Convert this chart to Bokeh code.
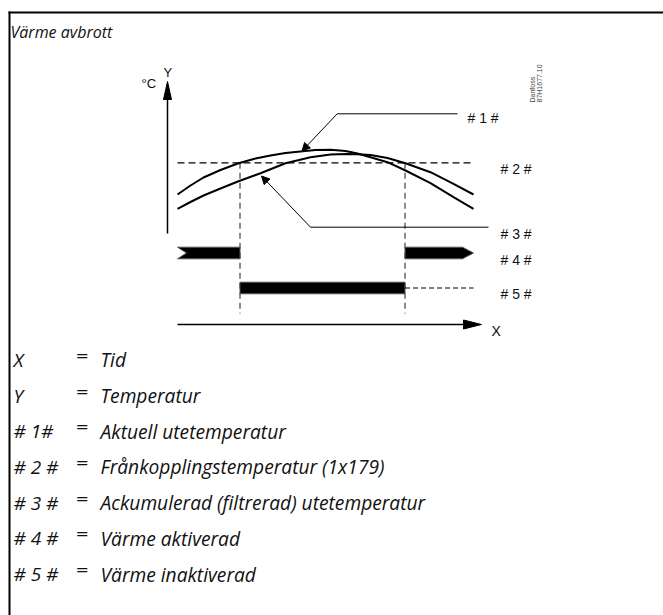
import math
from bokeh.plotting import figure
from bokeh.models import Range1d, Arrow, NormalHead
from bokeh.core.properties import value
from bokeh.embed import file_html
from bokeh.resources import INLINE

# ---------------- data (diagram coordinates) ----------------
title = "Värme avbrott"

# outdoor temperature curves (time, temperature in diagram units; y grows downward)
actual_time = [177, 190, 203, 220, 238, 255, 270, 285, 300, 315, 330, 345, 357, 370, 387, 405, 430, 453, 473]
actual_temp = [194, 185, 177, 169.5, 162.7, 158, 155, 152.5, 151, 149.5, 149.3, 150.5, 153, 156.7, 161.7, 170, 182.7, 196.7, 208.3]
accum_time = [177, 190, 203, 220, 238, 260, 285, 310, 330, 345, 357, 370, 387, 405, 430, 453, 473]
accum_temp = [208.3, 201.5, 195, 188, 180.7, 172.7, 162.7, 156.7, 154, 153.5, 153.8, 154.5, 157.5, 162.7, 171.7, 183.3, 194]

cutout_temp = 162.3            # # 2 #
time_span = (177, 473)
switch_times = [239.5, 404.5]

heat_on_level = 252.5          # # 4 #
heat_off_level = 287.5         # # 5 #

callout_keys = ["# 1 #", "# 2 #", "# 3 #", "# 4 #", "# 5 #"]

legend_keys = ["X", "Y", "# 1#", "# 2 #", "# 3 #", "# 4 #", "# 5 #"]
legend_texts = ["Tid", "Temperatur", "Aktuell utetemperatur",
                "Frånkopplingstemperatur (1x179)",
                "Ackumulerad (filtrerad) utetemperatur",
                "Värme aktiverad", "Värme inaktiverad"]

# ---------------- figure ----------------
W, H = 663, 615
p = figure(width=W, height=H, x_range=Range1d(0, W), y_range=Range1d(H, 0),
           output_backend="svg", toolbar_location=None, min_border=0,
           x_axis_type=None, y_axis_type=None)
p.grid.visible = False
p.outline_line_color = None
p.border_fill_color = "white"
p.background_fill_color = "white"

# frame
p.line([8, 663], [12, 12], line_color="black", line_width=2)
p.line([9, 9], [11, 615], line_color="black", line_width=2)

# title
p.text([10], [31], text=[title], text_font=value("Open Sans"), text_font_style="italic",
       text_font_size="16px", text_baseline="alphabetic", text_color="#111")

# axes of diagram
ax_x0, ax_y0 = 167, 233
p.line([ax_x0, ax_x0], [ax_y0, 98], line_color="black", line_width=1.5)
p.patch([ax_x0, ax_x0 - 4, ax_x0 + 4], [81, 99, 99], fill_color="black", line_color="black")
xa_y = 324
p.line([time_span[0], 464], [xa_y, xa_y], line_color="black", line_width=1.5)
p.patch([481, 463, 463], [xa_y, xa_y - 4.5, xa_y + 4.5], fill_color="black", line_color="black")

p.text([141], [83.3], text=["°C"], text_font=value("Liberation Sans"), text_font_size="13px",
       text_baseline="alphabetic", text_color="#111")
p.text([163], [71.7], text=["Y"], text_font=value("Liberation Sans"), text_font_size="13px",
       text_baseline="alphabetic", text_color="#111")
p.text([491], [330], text=["X"], text_font=value("Liberation Sans"), text_font_size="14px",
       text_baseline="alphabetic", text_color="#111")

# cut-out temperature
p.line(list(time_span), [cutout_temp, cutout_temp], line_color="black", line_width=1.2,
       line_dash="7 4")
# switching verticals
for t in switch_times:
    p.line([t, t], [cutout_temp, 313], line_color="#666666", line_width=1.5, line_dash="6 4")

# curves
p.line(actual_time, actual_temp, line_color="black", line_width=2)
p.line(accum_time, accum_temp, line_color="black", line_width=2)

# leader lines
p.line([336.7, 457], [113.3, 113.3], line_color="black", line_width=1)
p.add_layout(Arrow(end=NormalHead(size=8, fill_color="black", line_color="black", line_width=1),
                   x_start=336.7, y_start=113.3, x_end=301.5, y_end=150.5,
                   line_color="black", line_width=1))
p.line([310, 488], [226.7, 226.7], line_color="black", line_width=1)
p.add_layout(Arrow(end=NormalHead(size=8, fill_color="black", line_color="black", line_width=1),
                   x_start=310, y_start=226.7, x_end=261, y_end=175.5,
                   line_color="black", line_width=1))

# heating on bars (#4)
hh = 5.8
l0, l1 = time_span[0], switch_times[0]
p.patch([l0, l1, l1, l0, l0 + 9], [heat_on_level - hh, heat_on_level - hh, heat_on_level + hh,
        heat_on_level + hh, heat_on_level], fill_color="black", line_color="#555555", line_width=1)
r0, r1 = switch_times[1], time_span[1]
p.patch([r0, r1 - 11, r1, r1 - 11, r0], [heat_on_level - hh, heat_on_level - hh, heat_on_level,
        heat_on_level + hh, heat_on_level + hh], fill_color="black", line_color="#555555", line_width=1)
# heating off bar (#5)
p.patch([switch_times[0], switch_times[1], switch_times[1], switch_times[0]],
        [heat_off_level - hh, heat_off_level - hh, heat_off_level + hh, heat_off_level + hh],
        fill_color="black", line_color="#555555", line_width=1)
p.line([switch_times[1], time_span[1]], [heat_off_level, heat_off_level], line_color="black",
       line_width=1, line_dash="5 3")

# callout labels
p.text([467, 500, 500, 500, 500], [117.7, 168.3, 233.3, 259, 293.3], text=callout_keys,
       text_font=value("Liberation Sans"), text_font_size="14px", text_baseline="alphabetic",
       text_color="#111")

# drawing number
p.text([532, 539], [102, 102], text=["Danfoss", "87H1677.10"], angle=math.pi / 2,
       text_font=value("Liberation Sans"), text_font_size="7px", text_baseline="middle",
       text_align="left", text_color="#444")

# legend
base = [359.3 + i * 35.7 for i in range(len(legend_keys))]
p.text([13] * len(base), base, text=legend_keys, text_font=value("Open Sans"),
       text_font_style="italic", text_font_size="19px", text_baseline="alphabetic",
       text_color="#111")
p.text([75] * len(base), [b - 4.5 for b in base], text=["="] * len(base),
       text_font=value("DejaVu Sans"), text_font_size="16px", text_baseline="alphabetic",
       text_color="#111")
p.text([100] * len(base), base, text=legend_texts, text_font=value("Open Sans"),
       text_font_style="italic", text_font_size="19.2px", text_baseline="alphabetic",
       text_color="#111")

open("out.html", "w").write(file_html(p, INLINE))
